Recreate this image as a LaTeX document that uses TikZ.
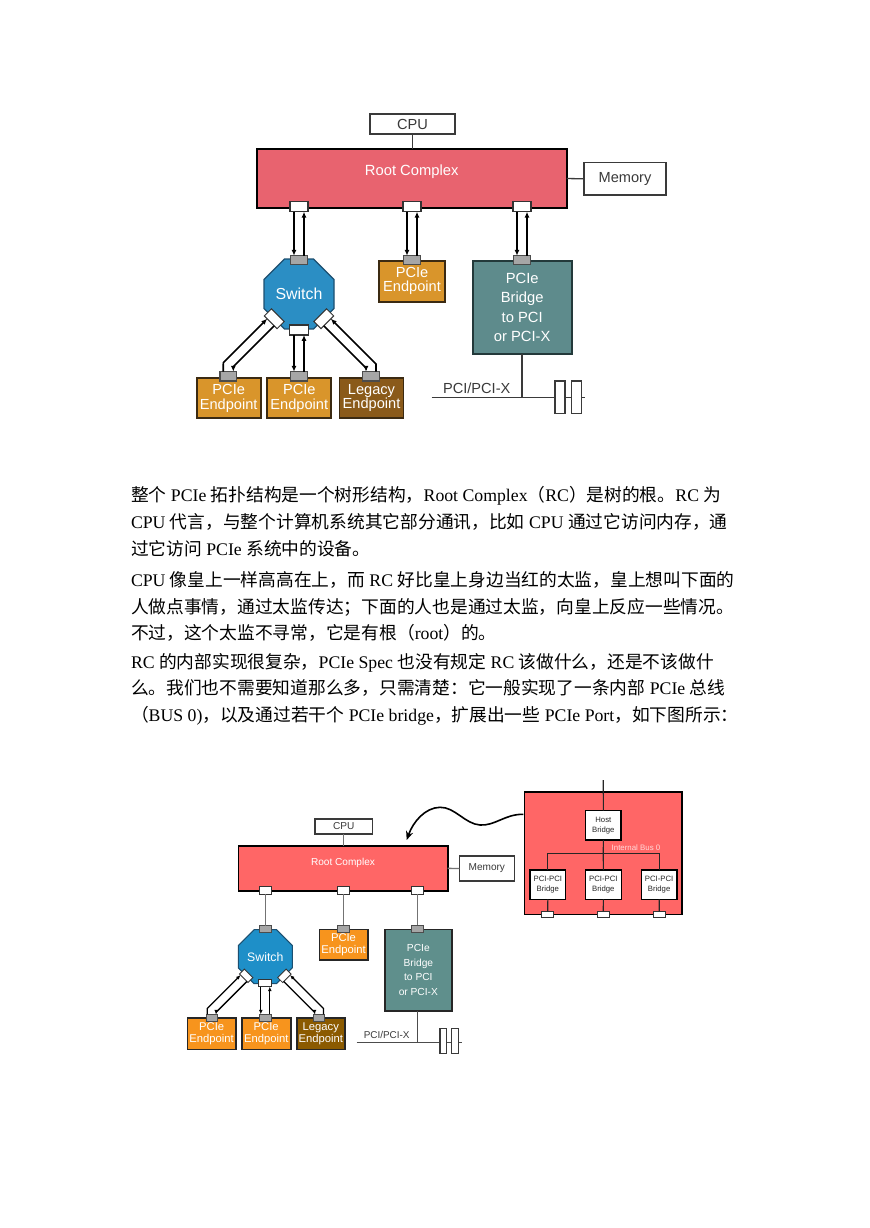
\documentclass[tikz,border=0pt]{standalone}
\usepackage{fontspec}
\setmainfont{Liberation Sans}
\newfontfamily\zh{Noto Sans CJK SC}
\newfontfamily\tms{Liberation Serif}
\usetikzlibrary{shapes.geometric,arrows.meta}
\newcommand\T[1]{{\tms #1}}
\newcommand\bx[7]{\node[#1, minimum width={((#4)-(#2))*0.685pt}, minimum height={((#5)-(#3))*0.685pt}] (#6) at ({((#2)+(#4))/2},{((#3)+(#5))/2}) {#7};}
\definecolor{rcA}{HTML}{E8636F}
\definecolor{rcB}{HTML}{FF6666}
\definecolor{epA}{HTML}{D9952B}
\definecolor{epB}{HTML}{F7941D}
\definecolor{lgA}{HTML}{8A5A1A}
\definecolor{lgB}{HTML}{8B5A00}
\definecolor{swA}{HTML}{2B8EC4}
\definecolor{swB}{HTML}{1E8FC8}
\definecolor{brA}{HTML}{5E8B8C}
\definecolor{brB}{HTML}{5F8F8C}
\definecolor{portg}{HTML}{A6A6A6}
\definecolor{txtg}{HTML}{3A3A3A}
\definecolor{busl}{HTML}{FFD9D9}
\definecolor{epbd}{HTML}{3B2A12}
\definecolor{brbd}{HTML}{23393A}
\definecolor{swbd}{HTML}{1C4F70}
\begin{document}
\begin{tikzpicture}[x=0.685pt,y=-0.685pt,
  bxbase/.style={inner sep=0pt, outer sep=0pt, align=center},
  wbA/.style={bxbase, draw=txtg, line width=0.9pt, fill=white, text=txtg, font=\fontsize{10}{12}\selectfont},
  rcAst/.style={bxbase, draw=black, line width=1.3pt, fill=rcA},
  epAst/.style={bxbase, draw=epbd, line width=1.3pt, fill=epA, text=white, font=\fontsize{10}{9.8}\selectfont},
  lgAst/.style={epAst, fill=lgA},
  brAst/.style={bxbase, draw=brbd, line width=1.3pt, fill=brA, text=white, font=\fontsize{10.1}{13.4}\selectfont},
  swAst/.style={bxbase, regular polygon, regular polygon sides=8, draw=swbd, line width=0.8pt, fill=swA, text=white, font=\fontsize{10.9}{12}\selectfont},
  portW/.style={bxbase, draw=black!80, line width=0.7pt, fill=white},
  portG/.style={bxbase, draw=black!70, line width=0.7pt, fill=portg},
  lnA/.style={draw=txtg, line width=0.9pt},
  dl/.style={draw=black, line width=1.1pt, -{Latex[length=4pt,width=3.4pt]}},
  wbB/.style={bxbase, draw=txtg, line width=0.8pt, fill=white, text=txtg, font=\fontsize{6.9}{8}\selectfont},
  rcBst/.style={bxbase, draw=black, line width=1.1pt, fill=rcB},
  epBst/.style={bxbase, draw=black!85, line width=1.1pt, fill=epB, text=white, font=\fontsize{7.7}{8}\selectfont},
  lgBst/.style={epBst, fill=lgB},
  brBst/.style={bxbase, draw=black!85, line width=1.1pt, fill=brB, text=white, font=\fontsize{7}{10}\selectfont},
  swBst/.style={bxbase, regular polygon, regular polygon sides=8, draw=swbd, line width=0.7pt, fill=swB, text=white, font=\fontsize{8.4}{10}\selectfont},
  smallbox/.style={bxbase, draw=black, line width=0.8pt, fill=white, text=black!85, font=\fontsize{5.3}{6.6}\selectfont},
  lnB/.style={draw=black!55, line width=0.9pt},
  lnK/.style={draw=black!85, line width=0.8pt},
  dlB/.style={draw=black, line width=0.85pt, -{Latex[length=3pt,width=2.6pt]}},
  txt/.style={anchor=base west, inner sep=0pt, outer sep=0pt, font=\zh\fontsize{12.15}{14}\selectfont, text=black}
]
\path[use as bounding box, fill=white] (0,0) rectangle (869,1228);

%% ================= TOP DIAGRAM =================
\bx{wbA}{370}{114}{455}{134}{cpu1}{CPU}
\bx{rcAst}{256.7}{149.3}{566.7}{207.7}{rc1}{}
\node[text=white, font=\fontsize{10.1}{12}\selectfont] (rc1t) at (411.7,171.7) {Root Complex};
\bx{wbA}{584}{162.7}{666}{195}{mem1}{Memory}
\draw[lnA] (cpu1.south) -- (cpu1.south |- rc1.north);
\draw[lnA] (rc1.east) -- (mem1.west);

% RC ports
\bx{portW}{290}{201.7}{308}{211.7}{p1a}{}
\bx{portW}{403}{201.7}{421}{211.7}{p1b}{}
\bx{portW}{513}{201.7}{531}{211.7}{p1c}{}

% switch
\node[swAst, minimum size=51.9pt] (sw1) at (299,294) {Switch};
\bx{portG}{290.25}{255.7}{307.75}{264.3}{sw1t}{}
\node[portW, minimum width=12.33pt, minimum height=6.85pt, rotate=-45] (sw1l) at (274.25,318.75) {};
\node[portW, minimum width=12.33pt, minimum height=6.85pt, rotate=45] (sw1r) at (323.75,318.75) {};
\bx{portW}{289.5}{325}{308.5}{335}{sw1b}{}

% endpoint middle
\bx{epAst}{379}{260.7}{445}{301.7}{ep1}{PCIe\\Endpoint}
\bx{portG}{403.25}{255.7}{420.75}{264.3}{ep1p}{}

% bridge
\bx{brAst}{472.7}{260.7}{571.7}{354}{br1}{PCIe\\Bridge\\to PCI\\or PCI-X}
\bx{portG}{513.25}{255.7}{530.75}{264.3}{br1p}{}

% PCI bus
\coordinate (bus1l) at (431.7,397.7);
\coordinate (bus1r) at (585,397.7);
\draw[lnA] (br1.south -| br1p.south) -- (br1p.south |- bus1l);
\draw[lnA] (bus1l) -- (bus1r);
\node[text=txtg, font=\fontsize{10}{12}\selectfont] (pcil1) at (476.7,388.3) {PCI/PCI-X};
\bx{bxbase,draw=txtg,line width=0.9pt,fill=white}{555}{381}{565}{413.3}{slot1a}{}
\bx{bxbase,draw=txtg,line width=0.9pt,fill=white}{571.7}{381}{581.7}{413.3}{slot1b}{}

% bottom endpoints
\bx{epAst}{196.7}{378.3}{260.7}{418.3}{e1}{PCIe\\Endpoint}
\bx{epAst}{267.3}{378.3}{331.3}{418.3}{e2}{PCIe\\Endpoint}
\bx{lgAst}{339.5}{378.3}{403.5}{418.3}{e3}{Legacy\\Endpoint}
\bx{portG}{220}{371.7}{236.6}{381}{e1p}{}
\bx{portG}{290.7}{371.7}{307.3}{381}{e2p}{}
\bx{portG}{362.7}{371.7}{379.3}{381}{e3p}{}

% double arrows RC -> devices
\draw[dl] ([xshift=-3.43pt]p1a.south) -- ([xshift=-3.43pt]sw1t.north);
\draw[dl] ([xshift=3.43pt]sw1t.north) -- ([xshift=3.43pt]p1a.south);
\draw[dl] ([xshift=-3.43pt]p1b.south) -- ([xshift=-3.43pt]ep1p.north);
\draw[dl] ([xshift=3.43pt]ep1p.north) -- ([xshift=3.43pt]p1b.south);
\draw[dl] ([xshift=-3.43pt]p1c.south) -- ([xshift=-3.43pt]br1p.north);
\draw[dl] ([xshift=3.43pt]br1p.north) -- ([xshift=3.43pt]p1c.south);
% switch -> endpoints
\draw[dl] ([xshift=-3.43pt]sw1b.south) -- ([xshift=-3.43pt]e2p.north);
\draw[dl] ([xshift=3.43pt]e2p.north) -- ([xshift=3.43pt]sw1b.south);
\draw[dl] ([xshift=-3.43pt]e1p.north) -- (223.3,362.62) -- ([shift={(-3.54,-3.54)}]sw1l.south);
\draw[dl] ([shift={(3.54,3.54)}]sw1l.south) -- (233.3,366.78) -- ([xshift=3.43pt]e1p.north);
\draw[dl] ([xshift=3.43pt]e3p.north) -- (376,363.92) -- ([shift={(3.54,-3.54)}]sw1r.south);
\draw[dl] ([shift={(-3.54,3.54)}]sw1r.south) -- (366,368.08) -- ([xshift=-3.43pt]e3p.north);

%% ================= TEXT =================
\node[txt] (t1) at (131,501.5) {整个\T{ PCIe }拓扑结构是一个树形结构，\T{Root Complex}（\T{RC}）是树的根。\T{RC }为};
\node[txt] (t2) at (131,528.5) {\T{CPU }代言，与整个计算机系统其它部分通讯，比如\T{ CPU }通过它访问内存，通};
\node[txt] (t3) at (131,555.5) {过它访问\T{ PCIe }系统中的设备。};
\node[txt] (t4) at (131,586.5) {\T{CPU }像皇上一样高高在上，而\T{ RC }好比皇上身边当红的太监，皇上想叫下面的};
\node[txt] (t5) at (131,613.5) {人做点事情，通过太监传达；下面的人也是通过太监，向皇上反应一些情况。};
\node[txt] (t6) at (131,639.5) {不过，这个太监不寻常，它是有根（\T{root}）的。};
\node[txt] (t7) at (131,668.5) {\T{RC }的内部实现很复杂，\T{PCIe Spec }也没有规定\T{ RC }该做什么，还是不该做什};
\node[txt] (t8) at (131,694.5) {么。我们也不需要知道那么多，只需清楚：它一般实现了一条内部\T{ PCIe }总线};
\node[txt] (t9) at (131,721.5) {（\T{BUS 0)}，以及通过若干个\T{ PCIe bridge}，扩展出一些\T{ PCIe Port}，如下图所示：};

%% ================= BOTTOM DIAGRAM =================
\bx{wbB}{315}{819}{372.3}{834}{cpu2}{CPU}
\bx{rcBst}{238.3}{846}{447.7}{890.7}{rc2}{}
\node[text=white, font=\fontsize{6.9}{8}\selectfont] (rc2t) at (343,862.7) {Root Complex};
\bx{wbB}{459.3}{856}{514.3}{881}{mem2}{Memory}
\draw[lnB] (cpu2.south) -- (cpu2.south |- rc2.north);
\draw[lnB] (rc2.east) -- (mem2.west);

\bx{portW,line width=0.6pt}{259.5}{886.7}{271.1}{894.3}{p2a}{}
\bx{portW,line width=0.6pt}{337.5}{886.7}{349.1}{894.3}{p2b}{}
\bx{portW,line width=0.6pt}{411.7}{886.7}{423.3}{894.3}{p2c}{}

\node[swBst, minimum size=40.04pt] (sw2) at (265.3,956.7) {Switch};
\bx{portG,line width=0.6pt}{258.95}{925.5}{271.65}{932.9}{sw2t}{}
\node[portW, line width=0.6pt, minimum width=8.2pt, minimum height=4.8pt, rotate=-45] (sw2l) at (246.2,975.8) {};
\node[portW, line width=0.6pt, minimum width=8.2pt, minimum height=4.8pt, rotate=45] (sw2r) at (284.4,975.8) {};
\bx{portW,line width=0.6pt}{258.8}{979.3}{271.8}{986.7}{sw2b}{}

\bx{epBst}{319.3}{929.3}{367.7}{960}{ep2}{PCIe\\Endpoint}
\bx{portG,line width=0.6pt}{336.95}{925}{349.65}{932.4}{ep2p}{}
\bx{brBst}{385}{929.3}{451.7}{1010.7}{br2}{PCIe\\Bridge\\to PCI\\or PCI-X}
\bx{portG,line width=0.6pt}{411.15}{925}{423.85}{932.4}{br2p}{}

\draw[lnB] (p2a.south) -- (sw2t.north);
\draw[lnB] (p2b.south) -- (ep2p.north);
\draw[lnB] (p2c.south) -- (br2p.north);

\coordinate (bus2l) at (356.7,1042.7);
\coordinate (bus2r) at (461.7,1042.7);
\draw[lnB,draw=black!70] (br2.south -| br2p.south) -- (br2p.south |- bus2l);
\draw[lnB,draw=black!70] (bus2l) -- (bus2r);
\node[text=txtg, font=\fontsize{6.8}{8}\selectfont] (pcil2) at (386.7,1035) {PCI/PCI-X};
\bx{bxbase,draw=txtg,line width=0.7pt,fill=white}{440}{1028.3}{446.7}{1053.3}{slot2a}{}
\bx{bxbase,draw=txtg,line width=0.7pt,fill=white}{451.7}{1028.3}{458.3}{1053.3}{slot2b}{}

\bx{epBst}{187.3}{1017.7}{236}{1049.3}{e21}{PCIe\\Endpoint}
\bx{epBst}{241.7}{1017.7}{290.7}{1049.3}{e22}{PCIe\\Endpoint}
\bx{lgBst}{296.7}{1017.7}{345}{1049.3}{e23}{Legacy\\Endpoint}
\bx{portG,line width=0.6pt}{206}{1014.3}{217.4}{1021}{e21p}{}
\bx{portG,line width=0.6pt}{259.6}{1014.3}{271}{1021}{e22p}{}
\bx{portG,line width=0.6pt}{313.3}{1014.3}{324.7}{1021}{e23p}{}

\draw[dlB] ([xshift=-3.08pt]sw2b.south) -- ([xshift=-3.08pt]e22p.north);
\draw[dlB] ([xshift=3.08pt]e22p.north) -- ([xshift=3.08pt]sw2b.south);
\draw[dlB] ([xshift=-3.08pt]e21p.north) -- (207.2,1008.44) -- ([shift={(-3.18,-3.18)}]sw2l.south);
\draw[dlB] ([shift={(3.18,3.18)}]sw2l.south) -- (216.2,1012.16) -- ([xshift=3.08pt]e21p.north);
\draw[dlB] ([xshift=3.08pt]e23p.north) -- (323.5,1008.54) -- ([shift={(3.18,-3.18)}]sw2r.south);
\draw[dlB] ([shift={(-3.18,3.18)}]sw2r.south) -- (314.5,1012.26) -- ([xshift=-3.08pt]e23p.north);

% internal RC block
\bx{rcBst}{524.3}{791.7}{681.7}{914.3}{blk}{}
\coordinate (hbin) at (603.3,780);
\bx{smallbox}{585.7}{810.7}{621}{840}{hb}{Host\\Bridge}
\draw[lnK] (hbin) -- (hb.north);
\bx{smallbox}{530}{870}{565.7}{899.3}{pb1}{PCI-PCI\\Bridge}
\bx{smallbox}{585.5}{870}{621.2}{899.3}{pb2}{PCI-PCI\\Bridge}
\bx{smallbox}{641.3}{870}{677}{899.3}{pb3}{PCI-PCI\\Bridge}
\coordinate (ib) at (603.3,853.3);
\draw[lnK] (hb.south) -- (ib);
\draw[lnK] (pb1.north) |- (ib) -| (pb3.north);
\draw[lnK] (ib) -- (pb2.north);
\node[text=busl, font=\fontsize{5.4}{6}\selectfont] (ibl) at (636,847.3) {Internal Bus 0};
\bx{portW,line width=0.6pt}{541.9}{911.3}{553.5}{917.3}{bp1}{}
\bx{portW,line width=0.6pt}{597.5}{911.3}{609.1}{917.3}{bp2}{}
\bx{portW,line width=0.6pt}{653.4}{911.3}{665}{917.3}{bp3}{}
\draw[lnK] (pb1.south) -- (bp1.north);
\draw[lnK] (pb2.south) -- (bp2.north);
\draw[lnK] (pb3.south) -- (bp3.north);

% wavy arrow
\coordinate (wv0) at (523.3,814.3);
\coordinate (wv1) at (406.7,840);
\draw[draw=black, line width=1.1pt, -{Stealth[length=6pt,width=5pt]}] (wv0) .. controls (505,814) and (495,826) .. (480,825) .. controls (465,824) and (455,807) .. (440,807.3) .. controls (425,807.6) and (413,822) .. (wv1);
\end{tikzpicture}
\end{document}
